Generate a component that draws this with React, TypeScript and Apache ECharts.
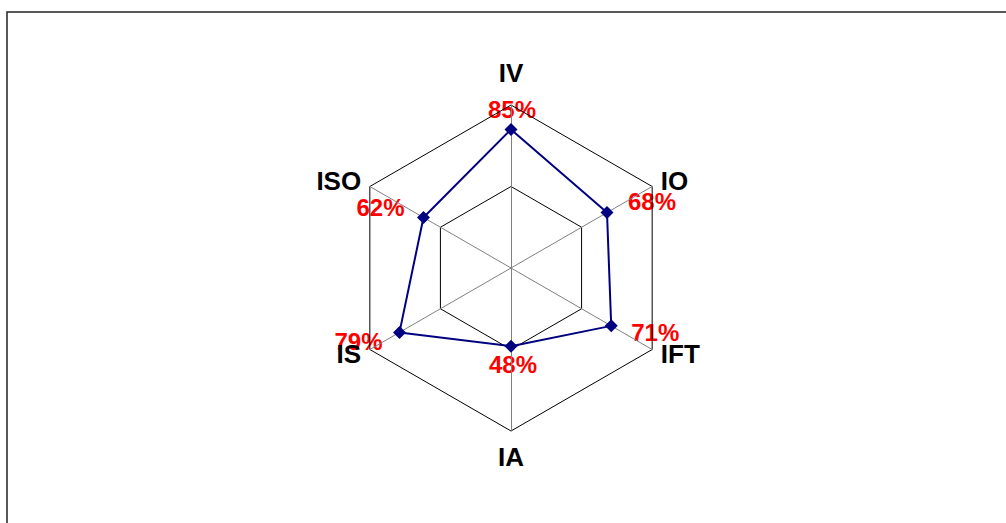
import React, { useEffect, useRef } from "react";
import * as echarts from "echarts";

const indicators = ["IV", "ISO", "IS", "IA", "IFT", "IO"];
const values = [85, 62, 79, 48, 71, 68];
const axisMax = 100;
const labelOffsets: [number, number][] = [
  [1, -20],
  [-43, -10],
  [-41, 9],
  [2, 18],
  [44, 7],
  [45, -11],
];

const FONT = "'Liberation Sans', Arial, sans-serif";
const nameStyle = { color: "#000", fontSize: 26, fontWeight: "bold", fontFamily: FONT };

export default function App() {
  const ref = useRef<HTMLDivElement>(null);
  useEffect(() => {
    document.body.style.margin = "0";
    const chart = echarts.init(ref.current!, null, { renderer: "svg" });
    const labelItems = indicators.map((_, k) => ({
      value: values,
      symbol: "circle",
      symbolSize: 0.1,
      lineStyle: { opacity: 0, width: 0 },
      itemStyle: { color: "transparent" },
      label: {
        show: true,
        position: "inside",
        offset: labelOffsets[k],
        color: "#ff0000",
        fontSize: 24,
        fontWeight: "bold",
        fontFamily: FONT,
        formatter: (p: any) => (values.indexOf(p.value) === k ? p.value + "%" : ""),
      },
    }));
    chart.setOption({
      animation: false,
      backgroundColor: "#ffffff",
      graphic: [
        {
          type: "rect",
          shape: { x: 7, y: 12, width: 1020, height: 530 },
          style: { fill: "none", stroke: "#222", lineWidth: 1.5 },
          silent: true,
        },
      ],
      radar: {
        z: 3,
        center: [511, 268],
        radius: 163,
        startAngle: 90,
        splitNumber: 2,
        shape: "polygon",
        nameGap: 10,
        axisName: {
          ...nameStyle,
          formatter: (name: string) =>
            name === "IV" ? `{t|${name}}` : name === "IA" ? `{b|${name}}` : `{s|${name}}`,
          rich: {
            t: { ...nameStyle, padding: [0, 0, 9, 0] },
            b: { ...nameStyle, padding: [3, 0, 0, 0] },
            s: { ...nameStyle, padding: [0, 0, 1, 0] },
          },
        },
        indicator: indicators.map((n) => ({ name: n, min: 0, max: axisMax })),
        axisLine: { lineStyle: { color: "#808080", width: 1 } },
        splitLine: { lineStyle: { color: "#000", width: 1 } },
        splitArea: { show: false },
      },
      series: [
        {
          type: "radar",
          z: 2,
          data: labelItems,
        },
        {
          type: "radar",
          z: 4,
          symbol: "diamond",
          symbolSize: 13,
          lineStyle: { color: "#000080", width: 2 },
          itemStyle: { color: "#000080" },
          label: { show: false },
          data: [{ value: values, name: "score" }],
        },
      ],
    });
    return () => chart.dispose();
  }, []);
  return <div ref={ref} style={{ width: 1006, height: 523 }} />;
}
